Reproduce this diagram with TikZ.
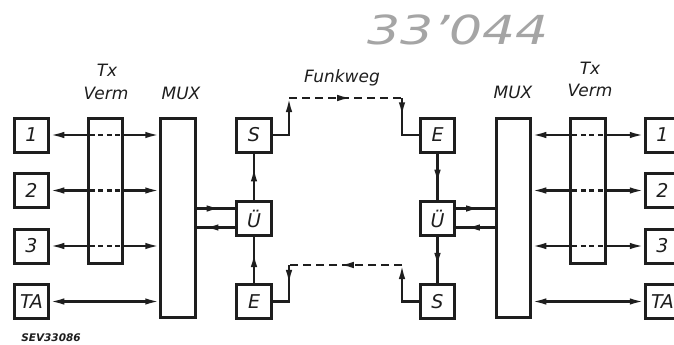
\documentclass[tikz,border=0pt]{standalone}
\usepackage{fontspec}
\setmainfont{DejaVu Sans}
\usetikzlibrary{arrows.meta, positioning, decorations.markings, calc}
\definecolor{Ink}{RGB}{30,30,30}
\definecolor{Pencil}{RGB}{165,165,165}

\tikzset{
  >={Latex[length=14pt,width=6.5pt]},
  blk/.style={draw=Ink, line width=3pt, inner sep=0pt,
    minimum width=34.5pt, minimum height=34pt,
    font=\fontsize{19}{19}\selectfont\itshape, text=Ink},
  tall/.style={draw=Ink, line width=3pt, inner sep=0pt,
    minimum width=34.5pt, minimum height=#1},
  sig/.style={draw=Ink, line width=2.2pt},
  radio/.style={dash pattern=on 8pt off 5pt},
  vdash/.style={dash pattern=on 5pt off 3.5pt},
  midarr/.style={postaction={decorate}, decoration={markings,
    mark=at position #1 with {\arrow{Latex[length=14pt,width=6.5pt]}}}},
  lbl/.style={font=\fontsize{17}{17}\selectfont\itshape, text=Ink, inner sep=0pt}
}

\begin{document}
\begin{tikzpicture}[x=1pt, y=-1pt]
\clip (0,0) rectangle (674,345);

% Left terminal
\node[blk] (chL1) at (31.5,135) {1};
\node[blk] (chL2) at (31.5,190.5) {2};
\node[blk] (chL3) at (31.5,246) {3};
\node[blk] (taL)  at (31.5,301.5) {TA};
\node[tall=145pt]   (txL)  at (105.5,191) {};
\node[tall=199pt] (muxL) at (178,218) {};

% Radio link
\node[blk] (sL)  at (254,135) {S};
\node[blk] (ueL) at (254,218.5) {Ü};
\node[blk] (eL)  at (254,301.5) {E};
\node[blk] (eR)  at (437.5,135) {E};
\node[blk] (ueR) at (437.5,218.5) {Ü};
\node[blk] (sR)  at (437.5,301.5) {S};

% Right terminal
\node[tall=199pt] (muxR) at (513.5,218) {};
\node[tall=145pt]   (txR)  at (588,191) {};
\node[blk] (chR1) at (662.5,135) {1};
\node[blk] (chR2) at (662.5,190.5) {2};
\node[blk] (chR3) at (662.5,246) {3};
\node[blk] (taR)  at (662.5,301.5) {TA};

% Labels
\node[lbl] (lblTxL)   at (107,70) {Tx};
\node[lbl] (lblVermL) at (106,93) {Verm};
\node[lbl] (lblMuxL)  at (181,93) {MUX};
\node[lbl] (lblFunk)  at (342,78) {Funkweg};
\node[lbl] (lblMuxR)  at (513,92) {MUX};
\node[lbl] (lblTxR)   at (590,68) {Tx};
\node[lbl] (lblVermR) at (590,90) {Verm};
\node[font=\fontsize{10.5}{10.5}\selectfont\bfseries\itshape, text=Ink] (lblSev) at (51,338) {SEV33086};
\node[font=\fontsize{40}{40}\selectfont\itshape, text=Pencil] (lblArch) at (458,30) {\scalebox{1.3}[1]{33'044}};

% Channels, left
\foreach \c in {chL1,chL2,chL3} {
  \draw[sig, <-] (\c.east) -- (\c.east -| txL.west);
  \draw[sig, vdash] ($(\c.east -| txL.west)+(3,0)$) -- (\c.east -| txL.east);
  \draw[sig, ->] (\c.east -| txL.east) -- (\c.east -| muxL.west);
}
\draw[sig, <->] (taL.east) -- (taL.east -| muxL.west);

% Channels, right
\foreach \c in {chR1,chR2,chR3} {
  \draw[sig, <-] (\c.west -| muxR.east) -- (\c.west -| txR.west);
  \draw[sig, vdash] ($(\c.west -| txR.west)+(3,0)$) -- (\c.west -| txR.east);
  \draw[sig, ->] (\c.west -| txR.east) -- (\c.west);
}
\draw[sig, <->] (taR.west -| muxR.east) -- (taR.west);

% MUX <-> Ü
\draw[sig, midarr=0.62] ($(ueL.west -| muxL.east)+(0,-10)$) -- ($(ueL.west)+(0,-10)$);
\draw[sig, midarr=0.8] ($(ueL.west)+(0,9)$) -- ($(ueL.west -| muxL.east)+(0,9)$);
\draw[sig, midarr=0.62] ($(ueR.east)+(0,-10)$) -- ($(ueR.east -| muxR.west)+(0,-10)$);
\draw[sig, midarr=0.75] ($(ueR.east -| muxR.west)+(0,9)$) -- ($(ueR.east)+(0,9)$);

% S / Ü / E stacks
\draw[sig, midarr=0.7] (ueL.north) -- (sL.south);
\draw[sig, midarr=0.65] (eL.north) -- (ueL.south);
\draw[sig, midarr=0.65] (eR.south) -- (ueR.north);
\draw[sig, midarr=0.65] (ueR.south) -- (sR.north);

% Funkweg
\coordinate (upL) at (289,98);
\coordinate (upR) at (402,98);
\coordinate (loL) at (289,265);
\coordinate (loR) at (402,265);
\draw[sig, ->] (sL.east) -| (upL);
\draw[sig, radio, midarr=0.55] (upL) -- (upR);
\draw[sig, midarr=0.34] (upR) |- (eR.west);
\draw[sig, ->] (sR.west) -| (loR);
\draw[sig, radio, midarr=0.55] (loR) -- (loL);
\draw[sig, midarr=0.36] (loL) |- (eL.east);
\end{tikzpicture}
\end{document}
